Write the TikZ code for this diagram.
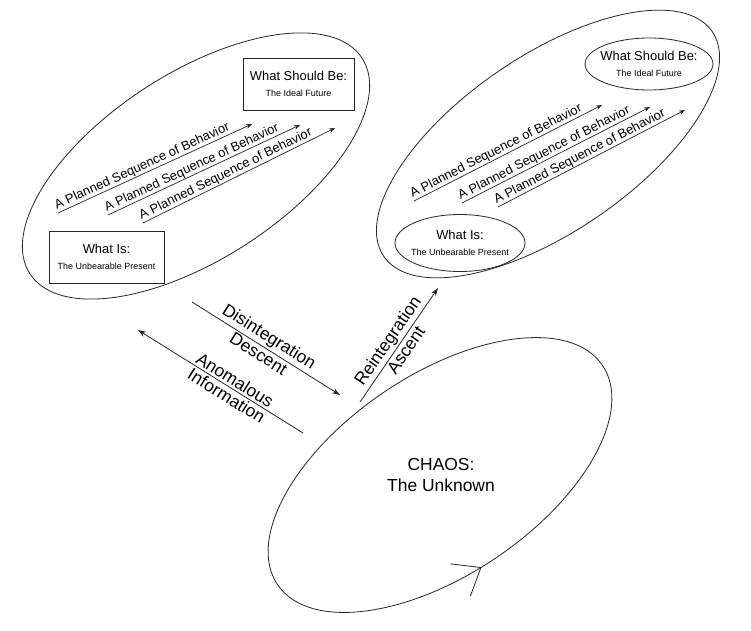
\documentclass[tikz,border=0pt]{standalone}
\usepackage{fontspec}
\setmainfont{Liberation Sans}
\usetikzlibrary{shapes.geometric, arrows.meta, decorations.markings}
\newcommand\fsbig{\fontsize{17.5}{21}\selectfont}
\newcommand\fsmed{\fontsize{13}{15.6}\selectfont}
\newcommand\fssmall{\fontsize{9}{10}\selectfont}
\begin{document}
\begin{tikzpicture}[x=1bp, y=-1bp,
  ink/.style={draw=black!85, line width=0.8bp},
  container/.style={ink, ellipse, inner sep=0pt},
  rectbox/.style={ink, rectangle, inner sep=0pt},
  ovalbox/.style={ink, ellipse, inner sep=0pt},
  boxtext/.style={align=center, font=\fsmed, inner sep=0pt},
  seqarrow/.style={ink, line width=0.7bp, -{Stealth[length=6bp,width=4.5bp]}},
  seqlabel/.style={pos=0, anchor=south west, sloped, inner xsep=0pt, inner ysep=0.5bp, font=\fsmed},
  flowarrow/.style={ink, -{Stealth[length=8bp,width=5.5bp]}},
  flowback/.style={ink, {Stealth[length=8bp,width=5.5bp]}-},
  flowlabel/.style={sloped, font=\fsbig, inner sep=2bp},
]
\fill[white] (0,0) rectangle (751,631);
\useasboundingbox (0,0) rectangle (751,631);

% ---------- left container ----------
\node[container, minimum width=396bp, minimum height=186bp, rotate=33] (L) at (196,166) {};
\node[rectbox, minimum width=111bp, minimum height=52bp] (LShould) at (298.5,84) {};
\node[boxtext] (LShouldT) at (LShould) {What Should Be:\\{\fssmall The Ideal Future}};
\node[rectbox, minimum width=115bp, minimum height=52bp] (LIs) at (106.5,257) {};
\node[boxtext] (LIsT) at (LIs) {What Is:\\{\fssmall The Unbearable Present}};

\coordinate (LA1) at (58,213);  \coordinate (LB1) at (252,124);
\coordinate (LA2) at (108,215); \coordinate (LB2) at (300,125);
\coordinate (LA3) at (143,223); \coordinate (LB3) at (335,128);
\draw[seqarrow] (LA1) -- (LB1) node[seqlabel] (LL1) {A Planned Sequence of Behavior};
\draw[seqarrow] (LA2) -- (LB2) node[seqlabel] (LL2) {A Planned Sequence of Behavior};
\draw[seqarrow] (LA3) -- (LB3) node[seqlabel] (LL3) {A Planned Sequence of Behavior};

% ---------- right container ----------
\node[container, minimum width=398bp, minimum height=176bp, rotate=34.4] (R) at (548,144) {};
\node[ovalbox, minimum width=128bp, minimum height=52bp] (RShould) at (649,64) {};
\node[boxtext] (RShouldT) at (RShould) {What Should Be:\\{\fssmall The Ideal Future}};
\node[ovalbox, minimum width=130bp, minimum height=57bp] (RIs) at (460,243) {};
\node[boxtext] (RIsT) at (RIs) {What Is:\\{\fssmall The Unbearable Present}};

\coordinate (RA1) at (414,201); \coordinate (RB1) at (602,105);
\coordinate (RA2) at (462,203); \coordinate (RB2) at (650,107);
\coordinate (RA3) at (498,207); \coordinate (RB3) at (685,110);
\draw[seqarrow] (RA1) -- (RB1) node[seqlabel] (RL1) {A Planned Sequence of Behavior};
\draw[seqarrow] (RA2) -- (RB2) node[seqlabel] (RL2) {A Planned Sequence of Behavior};
\draw[seqarrow] (RA3) -- (RB3) node[seqlabel] (RL3) {A Planned Sequence of Behavior};

% ---------- chaos ----------
\node[container, minimum width=392bp, minimum height=200bp, rotate=34,
  postaction={decorate, decoration={markings,
    mark=at position 0.732 with {\arrow{Straight Barb[length=24bp,width=38bp]}}}}] (C) at (440,475) {};
\node[align=center, font=\fsbig, inner sep=0pt] (CT) at (441,475) {CHAOS:\\The Unknown};

% ---------- transitions ----------
\coordinate (DA) at (192,302); \coordinate (DB) at (340,395);
\draw[flowarrow] (DA) -- (DB)
  node[flowlabel, above, pos=.48] (DL1) {Disintegration}
  node[flowlabel, below, pos=.48] (DL2) {Descent};

\coordinate (AA) at (138,330); \coordinate (AB) at (303,433);
\draw[flowback] (AA) -- (AB)
  node[flowlabel, above, pos=.56] (AL1) {Anomalous}
  node[flowlabel, below, pos=.565] (AL2) {Information};

\coordinate (UA) at (360,402); \coordinate (UB) at (438,288);
\draw[flowarrow] (UA) -- (UB)
  node[flowlabel, above, pos=.48] (UL1) {Reintegration}
  node[flowlabel, below, pos=.5] (UL2) {Ascent};
\end{tikzpicture}
\end{document}
